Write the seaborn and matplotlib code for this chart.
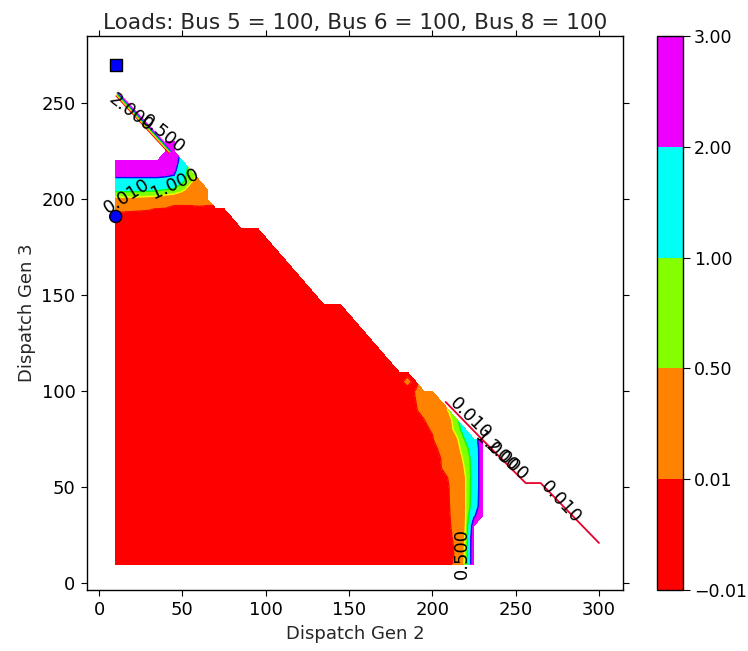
import numpy as np
import matplotlib
matplotlib.use("Agg")
import matplotlib.pyplot as plt
import matplotlib.transforms as mtransforms
from matplotlib.ticker import FuncFormatter
import seaborn as sns

nan = np.nan

# contour levels of the filled plot
levels = [-0.01, 0.01, 0.5, 1.0, 2.0, 3.0]

# dispatch grid (MW) the field was evaluated on
gen2 = np.arange(10, 305, 5)
gen3 = np.arange(10, 265, 5)

# feasible Gen 3 range for each Gen 2 column (10 ... 230)
edge_gen2 = list(range(10, 235, 5))
edge_gen3_top = [220, 220, 220, 220, 220, 220, 230, 230, 220, 215, 210, 205,
                 195, 195, 190, 185, 185, 185, 180, 175, 170, 165, 160, 155,
                 150, 145, 145, 145, 140, 135, 130, 125, 120, 115, 110, 110,
                 105, 100, 100, 95, 90, 85, 80, 75, 75]
edge_gen3_bottom = [10] * 44 + [35]

# non-zero values, upper-left corner of the feasible region
left_gen2 = [10, 15, 20, 25, 30, 35, 40, 45, 50, 55, 60, 65]
left_gen3 = [190, 195, 200, 205, 210, 215, 220, 225, 230]
left_vals = [
    [0, 0, 0, 0, 0, 0, 0, 0, 0, 0, 0, 0],
    [0.016, 0.015, 0.014, 0.013, 0.012, 0.009, 0.005, 0, 0, 0, 0, 0],
    [0.3, 0.3, 0.3, 0.28, 0.25, 0.2, 0.1, 0.03, 0.03, 0.03, 0.04, 0.03],
    [1.2, 1.2, 1.2, 1.2, 1.15, 1.1, 1.0, 0.9, 0.6, 0.3, 0.2, 0.15],
    [1.9, 1.9, 1.9, 1.9, 1.9, 1.9, 1.85, 1.8, 1.2, 0.6, 0.35, nan],
    [2.3, 2.3, 2.3, 2.3, 2.3, 2.3, 2.3, 2.2, 1.4, 0.7, nan, nan],
    [2.7, 2.7, 2.7, 2.7, 2.7, 2.7, 2.7, 2.6, 1.5, nan, nan, nan],
    [nan, nan, nan, nan, nan, nan, 2.7, 2.7, nan, nan, nan, nan],
    [nan, nan, nan, nan, nan, nan, 2.7, 2.7, nan, nan, nan, nan],
]

# non-zero values along the right-hand limit
right_gen2 = [185, 190, 195, 200, 205, 210, 215, 220, 225, 230]
right_gen3 = [10, 15, 20, 25, 30, 35, 40, 45, 50, 55, 60, 65, 70, 75, 80,
              85, 90, 95, 100, 105]
right_vals = [
    [0, 0, 0, 0, 0, 0, 0.025, 0.62, 2.95, nan],
    [0, 0, 0, 0, 0, 0, 0.018, 0.6, 2.95, nan],
    [0, 0, 0, 0, 0, 0, 0.02, 0.58, 2.9, nan],
    [0, 0, 0, 0, 0, 0, 0.03, 0.55, 2.8, nan],
    [0, 0, 0, 0, 0, 0, 0.05, 0.52, 2.6, nan],
    [0, 0, 0, 0, 0, 0.003, 0.06, 0.5, 1.9, 2.6],
    [0, 0, 0, 0, 0, 0.005, 0.09, 0.5, 1.45, 2.55],
    [0, 0, 0, 0, 0, 0.008, 0.12, 0.5, 1.4, 2.5],
    [0, 0, 0, 0, 0, 0.01, 0.18, 0.5, 1.35, 2.5],
    [0, 0, 0, 0, 0, 0.012, 0.22, 0.5, 1.35, 2.5],
    [0, 0, 0, 0, 0.006, 0.06, 0.25, 0.55, 1.35, 2.5],
    [0, 0, 0, 0, 0.01, 0.1, 0.3, 0.62, 1.35, 2.5],
    [0, 0, 0, 0.002, 0.015, 0.15, 0.35, 0.8, 1.45, 2.45],
    [0, 0, 0, 0.005, 0.05, 0.2, 0.45, 1.1, 1.7, 2.4],
    [0, 0, 0, 0.015, 0.1, 0.3, 0.7, 1.5, nan, nan],
    [0, 0, 0.008, 0.05, 0.15, 0.3, 0.9, nan, nan, nan],
    [0, 0.005, 0.03, 0.08, 0.2, 0.55, nan, nan, nan, nan],
    [0, 0.01, 0.05, 0.1, 0.3, nan, nan, nan, nan, nan],
    [0, 0.012, 0.04, 0.08, nan, nan, nan, nan, nan, nan],
    [0.02, 0, nan, nan, nan, nan, nan, nan, nan, nan],
]

# degenerate (line-like) parts of the feasible set
ridge_top_gen2 = [10, 42]
ridge_top_gen3 = [254, 224]
ridge_low_gen2 = [208, 229, 256, 265, 300]
ridge_low_gen3 = [94.4, 75.7, 52.2, 52.2, 21]

# inline contour labels
label_text = ["2.000", "0.500", "0.010", "1.000", "0.010", "1.000", "2.000", "0.010", "0.500"]
label_gen2 = [19.2, 38.4, 16.8, 45.6, 222.6, 238.2, 244.8, 277.2, 217.8]
label_gen3 = [245, 233.9, 201.7, 208, 85.6, 68.4, 63.7, 42.3, 15.3]
label_angle = [-38, -39, 32, 25, -45, -43, -43, -47, 90]

# operating points
point_gen2 = [10, 10]
point_gen3 = [270, 191]
point_kind = ["start", "current"]

# ---- assemble the field ----
Z = np.zeros((len(gen3), len(gen2)))
for g2, g3, vals in [(left_gen2, left_gen3, left_vals), (right_gen2, right_gen3, right_vals)]:
    vals = np.array(vals, dtype=float)
    ci = np.searchsorted(gen2, g2)
    ri = np.searchsorted(gen3, g3)
    for a, r in enumerate(ri):
        for b, c in enumerate(ci):
            if np.isfinite(vals[a, b]):
                Z[r, c] = vals[a, b]
top = np.full(len(gen2), -np.inf)
bottom = np.full(len(gen2), np.inf)
cols = np.searchsorted(gen2, edge_gen2)
top[cols] = edge_gen3_top
bottom[cols] = edge_gen3_bottom
Z[(gen3[:, None] > top[None, :]) | (gen3[:, None] < bottom[None, :])] = nan

# ---- style ----
sns.set_style("ticks")
plt.rcParams.update({
    "font.family": ["DejaVu Sans"],
    "font.size": 13,
    "axes.edgecolor": "black",
    "axes.linewidth": 1.0,
    "xtick.color": "black",
    "ytick.color": "black",
    "xtick.top": True,
    "ytick.right": True,
    "xtick.direction": "out",
    "ytick.direction": "out",
    "xtick.major.size": 4.5,
    "ytick.major.size": 4.5,
    "xtick.major.width": 0.8,
    "ytick.major.width": 0.8,
    "xtick.labelsize": 13,
    "ytick.labelsize": 13,
})

fig = plt.figure(figsize=(7.48, 6.51), dpi=100)
ax = fig.add_axes([0.1159, 0.0937, 0.7174, 0.851])
cax = fig.add_axes([0.8787, 0.0937, 0.0348, 0.851])

cf = ax.contourf(gen2, gen3, Z, levels=levels, cmap="hsv", vmin=-0.01, vmax=3.0)
ax.contour(gen2, gen3, Z, levels=levels, cmap="hsv", vmin=-0.01, vmax=3.0, linewidths=1.0)

# rainbow bundle of contour lines on the thin upper-left strip
bundle = ["#ff0000", "#ffd000", "#00ff00", "#0040ff", "#ff00ff"]
for k, col in enumerate(bundle):
    tr = mtransforms.offset_copy(ax.transData, fig=fig, x=0.5 * k, y=0.5 * k, units="points")
    ax.plot(ridge_top_gen2, ridge_top_gen3, color=col, lw=0.9, transform=tr, solid_capstyle="butt")
ax.plot(ridge_low_gen2, ridge_low_gen3, color="#e8002a", lw=1.3)

for s, x, y, r in zip(label_text, label_gen2, label_gen3, label_angle):
    ax.text(x, y, s, rotation=r, rotation_mode="anchor", ha="center", va="center",
            fontsize=13, color="black")

sns.scatterplot(x=point_gen2, y=point_gen3, style=point_kind, markers={"start": "s", "current": "o"},
                color="#0000ff", edgecolor="black", linewidth=1.0, s=75, legend=False, ax=ax, zorder=5)

ax.set_xlim(-7.4, 314.6)
ax.set_ylim(-3.5, 285)
ax.set_xticks([0, 50, 100, 150, 200, 250, 300])
ax.set_yticks([0, 50, 100, 150, 200, 250])
for sp in ax.spines.values():
    sp.set_visible(True)
ax.set_xlabel("Dispatch Gen 2", fontsize=13)
ax.set_ylabel("Dispatch Gen 3", fontsize=13)
ax.set_title("Loads: Bus 5 = 100, Bus 6 = 100, Bus 8 = 100", fontsize=15.6, pad=5)

cb = fig.colorbar(cf, cax=cax, ticks=levels,
                  format=FuncFormatter(lambda v, p: f"{v:.2f}".replace("-", "\u2212")))
cb.outline.set_edgecolor("black")
cb.outline.set_linewidth(1.0)
cax.tick_params(direction="out", length=5, width=0.8, labelsize=12.5, pad=2.5)

fig.savefig("out.png", dpi=100)
plt.close(fig)
